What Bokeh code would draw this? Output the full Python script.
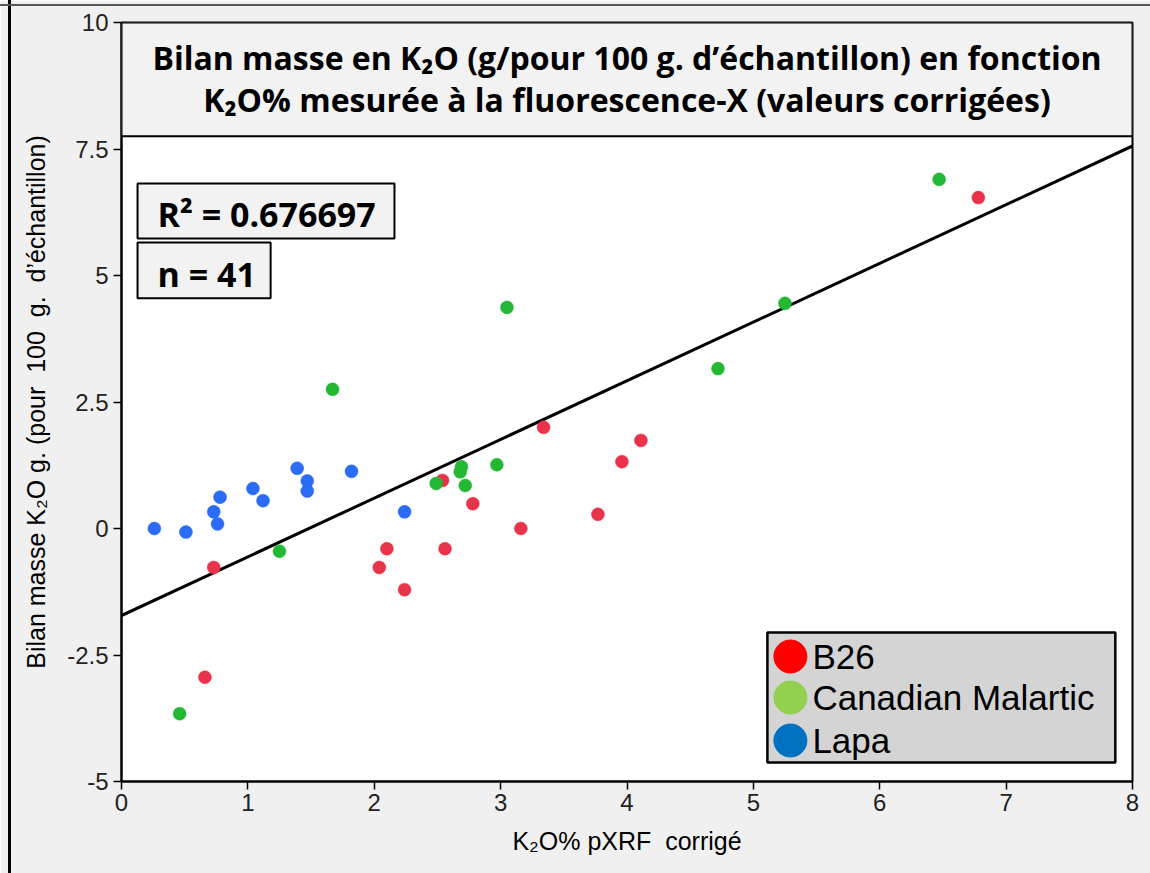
import numpy as np
from bokeh.plotting import figure
from bokeh.models import (BoxAnnotation, Label, FixedTicker, Range1d, InlineStyleSheet)
from bokeh.embed import file_html
from bokeh.resources import INLINE

# ---- data ----
b26_x = [6.78, 3.34, 4.11, 3.96, 2.54, 2.78, 3.16, 3.77, 2.10, 2.56, 2.04, 2.24, 0.73, 0.66]
b26_y = [6.54, 2.00, 1.74, 1.32, 0.95, 0.49, 0.00, 0.28, -0.40, -0.40, -0.77, -1.21, -0.77, -2.94]

cm_x = [6.47, 5.25, 4.72, 3.05, 1.67, 2.97, 2.69, 2.68, 2.49, 2.72, 1.25, 0.46]
cm_y = [6.90, 4.45, 3.16, 4.37, 2.75, 1.26, 1.22, 1.12, 0.89, 0.85, -0.45, -3.66]

lapa_x = [0.26, 0.51, 0.73, 0.76, 0.78, 1.04, 1.12, 1.39, 1.47, 1.47, 1.82, 2.24]
lapa_y = [0.00, -0.07, 0.33, 0.09, 0.62, 0.79, 0.55, 1.19, 0.94, 0.74, 1.13, 0.33]

fit_intercept = -1.72
fit_slope = 1.16
r2_text = "R² = 0.676697"
n_text = "n = 41"

x_ticks = [0, 1, 2, 3, 4, 5, 6, 7, 8]
y_ticks = [-5, -2.5, 0, 2.5, 5, 7.5, 10]
y_tick_labels = {-5: "-5", -2.5: "-2.5", 0: "0", 2.5: "2.5", 5: "5", 7.5: "7.5", 10: "10"}

series_names = ["B26", "Canadian Malartic", "Lapa"]
point_colors = ["#e8334a", "#22b833", "#2a6cf6"]
legend_colors = ["#ff0000", "#92d050", "#0070c0"]

title_1 = "Bilan masse en K₂O (g/pour 100 g. d’échantillon) en fonction"
title_2 = "K₂O% mesurée à la fluorescence-X (valeurs corrigées)"
x_label = "K₂O% pXRF\u00a0 corrigé"
y_label = "Bilan masse K₂O g. (pour\u00a0 100\u00a0 g.\u00a0 d’échantillon)"

# ---- layout constants (data-space placement of the annotation boxes) ----
LEG_LEFT, LEG_RIGHT, LEG_TOP, LEG_BOTTOM = 5.111, 7.864, -2.055, -4.625
LEG_MARK_X, LEG_TEXT_X = 5.293, 5.467
LEG_ROWS_Y = [-2.53, -3.34, -4.19]

# ---- figure ----
border_css = InlineStyleSheet(css="""
:host { position: relative; }
:host::before { content: ""; position: absolute; left: 8px; top: 0; width: 3px; height: 100%;
                background: black; z-index: 10; pointer-events: none; }
:host::after { content: ""; position: absolute; left: 0; top: 4px; width: 100%; height: 2px;
               background: #555555; z-index: 10; pointer-events: none; }
""")
p = figure(width=1150, height=873, output_backend="svg", toolbar_location=None,
           x_range=Range1d(x_ticks[0], x_ticks[-1]), y_range=Range1d(y_ticks[0], y_ticks[-1]),
           min_border_left=121, min_border_right=18, min_border_top=22, min_border_bottom=92,
           stylesheets=[border_css])
p.border_fill_color = "#f0f0f0"
p.background_fill_color = "white"
p.outline_line_color = "black"
p.outline_line_width = 2
p.grid.visible = False

for ax in (p.xaxis[0], p.yaxis[0]):
    ax.axis_line_color = "black"
    ax.axis_line_width = 2
    ax.major_tick_line_color = "black"
    ax.major_tick_line_width = 1.5
    ax.major_tick_out = 8
    ax.major_tick_in = 0
    ax.minor_tick_line_color = None
    ax.major_label_text_font = "Liberation Sans"
    ax.major_label_text_font_size = "24px"
    ax.major_label_text_color = "#222222"
    ax.axis_label_text_font = "Liberation Sans"
    ax.axis_label_text_font_size = "25px"
    ax.axis_label_text_font_style = "normal"
    ax.axis_label_text_color = "black"

p.xaxis.ticker = FixedTicker(ticks=x_ticks)
p.yaxis.ticker = FixedTicker(ticks=y_ticks)
p.yaxis.major_label_overrides = y_tick_labels
p.xaxis.axis_label = x_label
p.yaxis.axis_label = y_label
p.xaxis.axis_label_standoff = 13
p.yaxis.axis_label_standoff = 14
p.xaxis.major_label_standoff = 4
p.yaxis.major_label_standoff = 5

# regression line
fit_x = np.array([x_ticks[0], x_ticks[-1]], dtype=float)
fit_y = fit_intercept + fit_slope * fit_x
p.line(fit_x, fit_y, line_color="black", line_width=3)

# points
for xs, ys, c in zip([b26_x, cm_x, lapa_x], [b26_y, cm_y, lapa_y], point_colors):
    p.scatter(xs, ys, size=13, fill_color=c, line_color=c, line_width=0.5)

# title box
p.add_layout(BoxAnnotation(left=0, right=8, top=10, bottom=7.75, fill_color="#f2f2f2",
                           fill_alpha=1, line_color="black", line_alpha=1, line_width=2,
                           level="overlay"))
for t, yy in ((title_1, 9.31), (title_2, 8.47)):
    p.add_layout(Label(x=4, y=yy, text=t, text_align="center", text_baseline="middle",
                       text_font="Open Sans", text_font_style="bold", text_font_size="32px",
                       text_color="black", level="overlay"))

# R2 and n boxes
p.add_layout(BoxAnnotation(left=0.127, right=2.16, top=6.82, bottom=5.73, fill_color="#f2f2f2",
                           fill_alpha=1, line_color="black", line_alpha=1, line_width=2,
                           level="overlay"))
p.add_layout(BoxAnnotation(left=0.127, right=1.18, top=5.65, bottom=4.55, fill_color="#f2f2f2",
                           fill_alpha=1, line_color="black", line_alpha=1, line_width=2,
                           level="overlay"))
p.add_layout(Label(x=0.285, y=6.22, text=r2_text, text_align="left", text_baseline="middle",
                   text_font="Open Sans", text_font_style="bold", text_font_size="34px",
                   text_color="black", level="overlay"))
p.add_layout(Label(x=0.285, y=5.03, text=n_text, text_align="left", text_baseline="middle",
                   text_font="Open Sans", text_font_style="bold", text_font_size="34px",
                   text_color="black", level="overlay"))

# legend (drawn manually so that swatch size matches)
p.add_layout(BoxAnnotation(left=LEG_LEFT, right=LEG_RIGHT, top=LEG_TOP, bottom=LEG_BOTTOM,
                           fill_color="#d4d4d4", fill_alpha=1, line_color="black",
                           line_alpha=1, line_width=2.5, level="annotation"))
p.scatter([LEG_MARK_X] * len(series_names), LEG_ROWS_Y, size=33,
          fill_color=legend_colors, line_color=legend_colors, level="overlay")
for name, yy in zip(series_names, LEG_ROWS_Y):
    p.add_layout(Label(x=LEG_TEXT_X, y=yy, text=name, text_align="left",
                       text_baseline="middle", text_font="Liberation Sans",
                       text_font_size="35px", text_color="black", level="overlay"))

open("out.html", "w").write(file_html(p, INLINE))
